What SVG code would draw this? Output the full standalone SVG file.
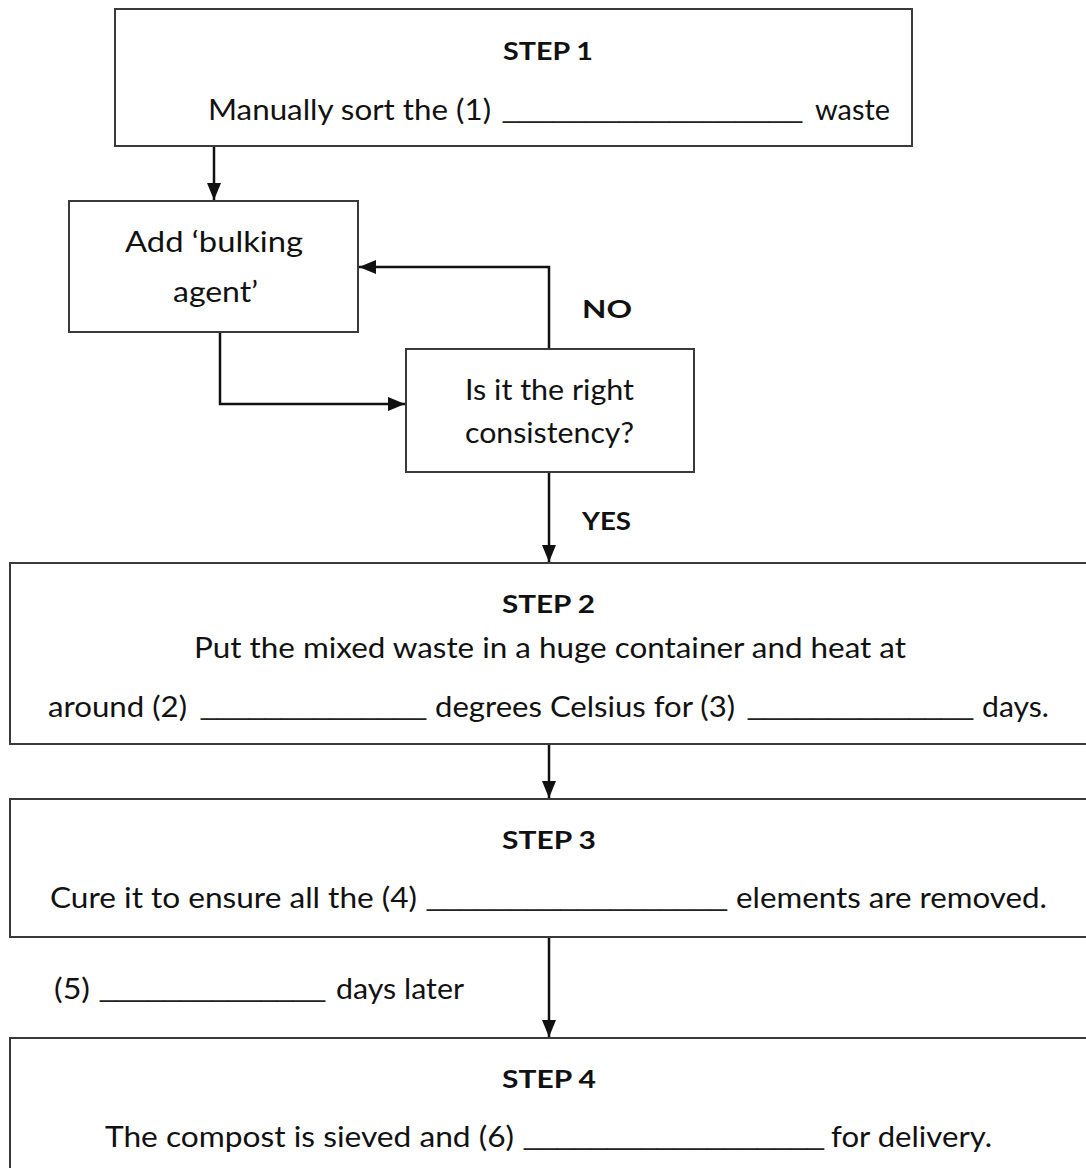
<svg xmlns="http://www.w3.org/2000/svg" width="1086" height="1168" viewBox="0 0 1086 1168">
<defs>
<style>
.box{fill:#fff;stroke:#3a3a3a;stroke-width:2}
.t{font-family:Lato,"Open Sans","Liberation Sans",sans-serif;font-size:28px;fill:#111}
.u{font-family:"Liberation Sans",Arial,sans-serif;font-size:28px;fill:#222}
.b{font-family:Lato,"Open Sans","Liberation Sans",sans-serif;font-size:25px;font-weight:bold;fill:#111}
.c{fill:none;stroke:#111;stroke-width:2.5}
</style>
<marker id="ah" markerUnits="userSpaceOnUse" markerWidth="17" markerHeight="14" refX="17" refY="7" orient="auto">
<path d="M0,0 L17,7 L0,14 z" fill="#111"/>
</marker>
</defs>
<rect width="1086" height="1168" fill="#fff"/>
<g id="connectors">
<path class="c" d="M214,147 V200" marker-end="url(#ah)"/>
<path class="c" d="M220,332 V404 H405" marker-end="url(#ah)"/>
<path class="c" d="M549,349 V267 H359" marker-end="url(#ah)"/>
<path class="c" d="M549,472 V562" marker-end="url(#ah)"/>
<path class="c" d="M549,745 V798" marker-end="url(#ah)"/>
<path class="c" d="M549,938 V1037" marker-end="url(#ah)"/>
</g>
<g id="labels">
<text class="b" x="582" y="318" textLength="50" lengthAdjust="spacingAndGlyphs">NO</text>
<text class="b" x="582" y="530" textLength="49" lengthAdjust="spacingAndGlyphs">YES</text>
<text class="t" x="54" y="999" textLength="36" lengthAdjust="spacingAndGlyphs">(5)</text>
<text class="u" x="100" y="996" textLength="225" lengthAdjust="spacingAndGlyphs">______________</text>
<text class="t" x="336" y="999" textLength="128" lengthAdjust="spacingAndGlyphs">days later</text>
</g>
<g id="step1">
<rect class="box" x="115" y="9" width="797" height="137"/>
<text class="b" x="503" y="60" textLength="90" lengthAdjust="spacingAndGlyphs">STEP 1</text>
<text class="t" x="208" y="120" textLength="283" lengthAdjust="spacingAndGlyphs">Manually sort the (1)</text>
<text class="u" x="503" y="117" textLength="299" lengthAdjust="spacingAndGlyphs">__________________</text>
<text class="t" x="815" y="120" textLength="75" lengthAdjust="spacingAndGlyphs">waste</text>
</g>
<g id="bulking">
<rect class="box" x="69" y="201" width="289" height="131"/>
<text class="t" x="125" y="252" textLength="178" lengthAdjust="spacingAndGlyphs">Add ‘bulking</text>
<text class="t" x="173" y="302" textLength="85" lengthAdjust="spacingAndGlyphs">agent’</text>
</g>
<g id="decision">
<rect class="box" x="406" y="349" width="288" height="123"/>
<text class="t" x="465" y="400" textLength="169" lengthAdjust="spacingAndGlyphs">Is it the right</text>
<text class="t" x="465" y="443" textLength="169" lengthAdjust="spacingAndGlyphs">consistency?</text>
</g>
<g id="step2">
<rect class="box" x="10" y="563" width="1090" height="181"/>
<text class="b" x="502" y="613" textLength="93" lengthAdjust="spacingAndGlyphs">STEP 2</text>
<text class="t" x="194" y="658" textLength="712" lengthAdjust="spacingAndGlyphs">Put the mixed waste in a huge container and heat at</text>
<text class="t" x="48" y="717" textLength="139" lengthAdjust="spacingAndGlyphs">around (2)</text>
<text class="u" x="201" y="714" textLength="225" lengthAdjust="spacingAndGlyphs">______________</text>
<text class="t" x="435" y="717" textLength="300" lengthAdjust="spacingAndGlyphs">degrees Celsius for (3)</text>
<text class="u" x="748" y="714" textLength="225" lengthAdjust="spacingAndGlyphs">______________</text>
<text class="t" x="982" y="717" textLength="67" lengthAdjust="spacingAndGlyphs">days.</text>
</g>
<g id="step3">
<rect class="box" x="10" y="799" width="1090" height="138"/>
<text class="b" x="502" y="849" textLength="94" lengthAdjust="spacingAndGlyphs">STEP 3</text>
<text class="t" x="50" y="908" textLength="367" lengthAdjust="spacingAndGlyphs">Cure it to ensure all the (4)</text>
<text class="u" x="427" y="905" textLength="300" lengthAdjust="spacingAndGlyphs">__________________</text>
<text class="t" x="736" y="908" textLength="311" lengthAdjust="spacingAndGlyphs">elements are removed.</text>
</g>
<g id="step4">
<rect class="box" x="10" y="1038" width="1090" height="140"/>
<text class="b" x="502" y="1088" textLength="94" lengthAdjust="spacingAndGlyphs">STEP 4</text>
<text class="t" x="105" y="1147" textLength="409" lengthAdjust="spacingAndGlyphs">The compost is sieved and (6)</text>
<text class="u" x="524" y="1144" textLength="300" lengthAdjust="spacingAndGlyphs">__________________</text>
<text class="t" x="831" y="1147" textLength="161" lengthAdjust="spacingAndGlyphs">for delivery.</text>
</g>
</svg>
